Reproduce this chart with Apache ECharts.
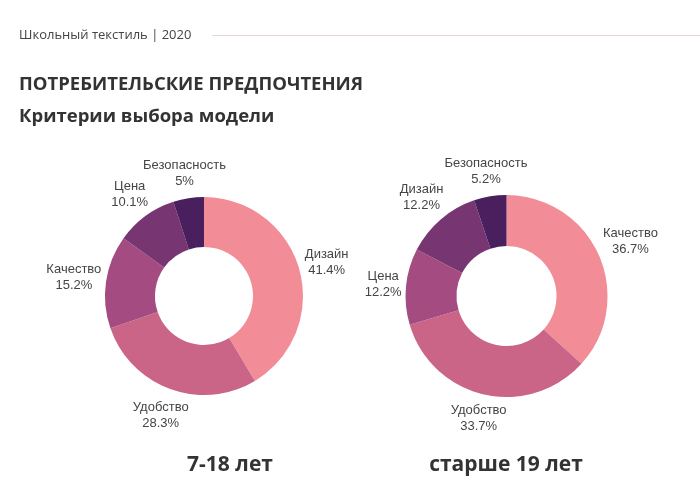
<!DOCTYPE html>
<html>
<head>
<meta charset="utf-8">
<script src="https://cdn.jsdelivr.net/npm/echarts@6/dist/echarts.min.js"></script>
<style>
  html, body { margin: 0; padding: 0; background: #fff; }
  #chart { width: 700px; height: 495px; }
</style>
</head>
<body>
<div id="chart"></div>
<script>
// данные
const youngNames = ['Дизайн', 'Удобство', 'Качество', 'Цена', 'Безопасность']
const youngValues = [41.4, 28.3, 15.2, 10.1, 5]
const adultNames = ['Качество', 'Удобство', 'Цена', 'Дизайн', 'Безопасность']
const adultValues = [36.7, 33.7, 12.2, 12.2, 5.2]
const groupLabels = ['7-18 лет', 'старше 19 лет']
const sliceColors = ['#f28c96', '#ca6588', '#a44c82', '#773572', '#4a1f5e']

const chart = echarts.init(document.getElementById('chart'))

// цвет по порядку сектора, а не по названию
const toData = (names, values) =>
  names.map((name, i) => ({ name, value: values[i], itemStyle: { color: sliceColors[i] } }))

// подпись ставим по направлению (невидимой) выноски, чуть отступив от кольца
const LABEL_GAP = 3
const centerLabel = (p) => {
  const pts = p.labelLinePoints
  if (!pts) return {}
  const dx = pts[1][0] - pts[0][0]
  const dy = pts[1][1] - pts[0][1]
  const len = Math.sqrt(dx * dx + dy * dy) || 1
  const ux = dx / len
  const uy = dy / len
  const w = p.labelRect.width
  const h = p.labelRect.height
  const d = LABEL_GAP + Math.abs(ux) * w / 2 + Math.abs(uy) * h / 2
  return {
    x: pts[0][0] + ux * d,
    y: pts[0][1] + uy * d,
    align: 'center',
    verticalAlign: 'middle'
  }
}

const pieSeries = (data, center, radius) => ({
  type: 'pie',
  center,
  radius,
  startAngle: 90,
  clockwise: true,
  avoidLabelOverlap: false,
  silent: true,
  label: {
    show: true,
    position: 'outside',
    formatter: '{b}\n{c}%',
    fontFamily: 'Liberation Sans',
    fontSize: 13,
    lineHeight: 16,
    color: '#454545',
    overflow: 'none'
  },
  labelLine: {
    show: true,
    length: 10,
    length2: 1,
    lineStyle: { color: 'rgba(0,0,0,0)' }
  },
  labelLayout: centerLabel,
  itemStyle: { borderWidth: 0 },
  data
})

const headText = (text, y, font, fill) => ({
  type: 'text',
  x: 19,
  y,
  style: { text, font, fill, textVerticalAlign: 'middle' }
})

const groupText = (text, x) => ({
  type: 'text',
  x,
  y: 465,
  style: {
    text,
    textAlign: 'center',
    textVerticalAlign: 'middle',
    font: 'bold 21px "Open Sans"',
    fill: '#333'
  }
})

const option = {
  backgroundColor: '#fff',
  animation: false,
  graphic: [
    headText('Школьный текстиль | 2020', 35, '13px "Open Sans"', '#444'),
    headText('ПОТРЕБИТЕЛЬСКИЕ ПРЕДПОЧТЕНИЯ', 85, 'bold 18.5px "Open Sans"', '#333'),
    headText('Критерии выбора модели', 117, 'bold 18.5px "Open Sans"', '#333'),
    {
      type: 'line',
      shape: { x1: 212, y1: 35.5, x2: 700, y2: 35.5 },
      style: { stroke: '#e6d8da', lineWidth: 1 }
    },
    groupText(groupLabels[0], 230),
    groupText(groupLabels[1], 506)
  ],
  series: [
    pieSeries(toData(youngNames, youngValues), ['29.14%', '59.8%'], [49, 99]),
    pieSeries(toData(adultNames, adultValues), ['72.36%', '59.8%'], [50, 101])
  ]
}

chart.setOption(option)
</script>
</body>
</html>
